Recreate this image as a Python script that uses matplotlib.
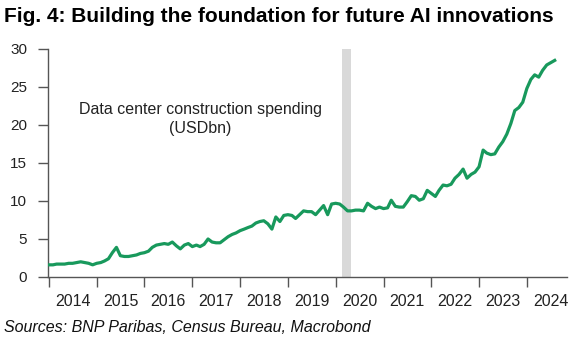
import matplotlib
matplotlib.use("Agg")
import matplotlib.pyplot as plt
import matplotlib.dates as mdates
import pandas as pd
import datetime as dt

# Monthly data center construction spending (USD bn), Jan 2014 - Aug 2024
v2014 = [1.6, 1.6, 1.7, 1.7, 1.7, 1.8, 1.8, 1.9, 2.0, 1.9, 1.8, 1.6]
v2015 = [1.8, 1.9, 2.1, 2.4, 3.2, 3.9, 2.8, 2.7, 2.7, 2.8, 2.9, 3.1]
v2016 = [3.2, 3.4, 3.9, 4.2, 4.3, 4.4, 4.3, 4.6, 4.1, 3.7, 4.2, 4.4]
v2017 = [4.0, 4.2, 4.0, 4.3, 5.0, 4.6, 4.5, 4.5, 4.9, 5.3, 5.6, 5.8]
v2018 = [6.1, 6.3, 6.5, 6.7, 7.1, 7.3, 7.4, 7.0, 6.3, 7.9, 7.3, 8.1]
v2019 = [8.2, 8.1, 7.7, 8.2, 8.7, 8.6, 8.6, 8.2, 8.8, 9.4, 8.2, 9.6]
v2020 = [9.7, 9.6, 9.2, 8.7, 8.7, 8.8, 8.8, 8.7, 9.7, 9.3, 9.0, 9.2]
v2021 = [9.0, 9.1, 10.1, 9.3, 9.2, 9.2, 9.9, 10.7, 10.6, 10.1, 10.3, 11.4]
v2022 = [11.0, 10.6, 11.4, 12.1, 12.0, 12.2, 13.0, 13.5, 14.2, 13.0, 13.5, 13.8]
v2023 = [14.5, 16.7, 16.3, 16.1, 16.2, 17.1, 17.8, 18.8, 20.2, 21.9, 22.3, 23.0]
v2024 = [24.8, 26.0, 26.6, 26.3, 27.2, 27.9, 28.2, 28.5]

values = v2014 + v2015 + v2016 + v2017 + v2018 + v2019 + v2020 + v2021 + v2022 + v2023 + v2024
dates = pd.date_range("2014-01-01", periods=len(values), freq="MS")

year_labels = [str(y) for y in range(2014, 2025)]
y_ticks = [0, 5, 10, 15, 20, 25, 30]
recession = (dt.datetime(2020, 2, 22), dt.datetime(2020, 4, 27))

title = "Fig. 4: Building the foundation for future AI innovations"
source = "Sources: BNP Paribas, Census Bureau, Macrobond"
annotation = "Data center construction spending\n(USDbn)"

plt.rcParams['font.family'] = ['Liberation Sans', 'DejaVu Sans']

fig = plt.figure(figsize=(5.81, 3.53), dpi=100)
ax = fig.add_axes([48 / 581, 76 / 353, 519 / 581, 228 / 353])

ax.axvspan(recession[0], recession[1], color="#d9d9d9", lw=0, zorder=1)
ax.plot(dates, values, color="#18995c", lw=2.3, zorder=3, solid_joinstyle="round")

ax.set_ylim(0, 30)
ax.set_xlim(dt.datetime(2013, 12, 25), dt.datetime(2024, 11, 3))

for s in ["top", "right"]:
    ax.spines[s].set_visible(False)
for s in ["left", "bottom"]:
    ax.spines[s].set_color("#555555")
    ax.spines[s].set_linewidth(1.0)

ax.set_yticks(y_ticks)
ax.set_yticklabels([str(t) for t in y_ticks])
ax.tick_params(axis="y", direction="out", length=7, width=1, color="#555555",
               pad=8, labelsize=11, labelcolor="#222222")

ax.xaxis.set_major_locator(mdates.YearLocator())
ax.xaxis.set_major_formatter(plt.NullFormatter())
ax.set_xticks([dt.datetime(int(y), 7, 2) for y in year_labels], minor=True)
ax.set_xticklabels(year_labels, minor=True)
ax.tick_params(axis="x", which="major", direction="out", length=7, width=1, color="#555555")
ax.tick_params(axis="x", which="minor", length=0, pad=12, labelsize=11.5, labelcolor="#222222")

ax.text(dt.datetime(2017, 3, 1), 20.8, annotation, ha="center", va="center",
        fontsize=11.5, color="#222222", linespacing=1.3)

fig.text(4 / 581, 1 - 16 / 353, title, fontsize=15, fontweight="bold",
         ha="left", va="center", color="#000000")
fig.text(4 / 581, 1 - 327 / 353, source, fontsize=11.5, style="italic",
         ha="left", va="center", color="#111111")

fig.savefig("out.png", dpi=100)
